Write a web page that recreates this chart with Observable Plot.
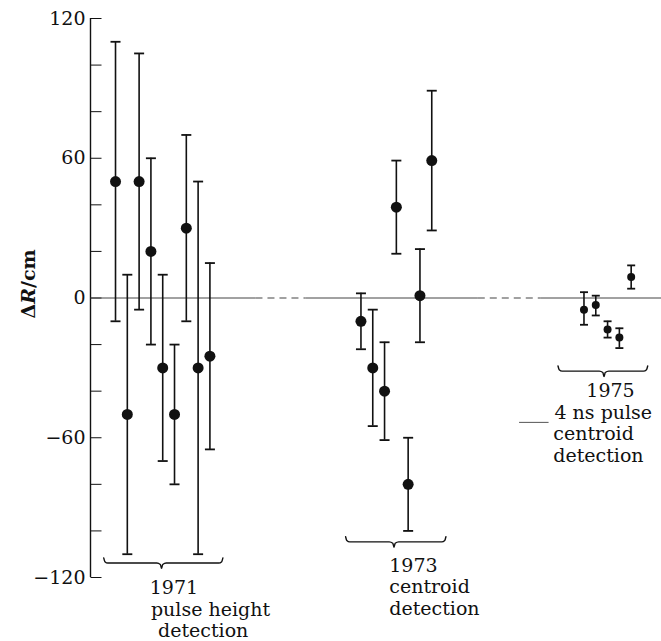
<!DOCTYPE html>
<html><head><meta charset="utf-8">
<script src="https://cdn.jsdelivr.net/npm/d3@7"></script>
<script src="https://cdn.jsdelivr.net/npm/@observablehq/plot@0.6"></script>
<style>
body{margin:0;background:#fff;}
#chart svg{display:block;}
</style></head><body><div id="chart"></div>
<script>
// ---- data ----
// horizontal sequence slots of each measurement
const slots1971 = [0, 1, 2, 3, 4, 5, 6, 7, 8];
const dR1971    = [50, -50, 50, 20, -30, -50, 30, -30, -25];
const lo1971    = [-10, -110, -5, -20, -70, -80, -10, -110, -65];
const hi1971    = [110, 10, 105, 60, 10, -20, 70, 50, 15];

const slots1973 = [20.8, 21.8, 22.8, 23.8, 24.8, 25.8, 26.8];
const dR1973    = [-10, -30, -40, 39, -80, 1, 59];
const lo1973    = [-22, -55, -61, 19, -100, -19, 29];
const hi1973    = [2, -5, -19, 59, -60, 21, 89];

const slots1975 = [39.7, 40.7, 41.7, 42.7, 43.7];
const dR1975    = [-5, -3, -13.5, -17, 9];
const lo1975    = [-11.5, -7.5, -17, -21.5, 4];
const hi1975    = [2.5, 1, -10, -13, 14];

const yTicks  = [-120, -100, -80, -60, -40, -20, 0, 20, 40, 60, 80, 100, 120];
const yLabels = [-120, -60, 0, 60, 120];
const yTitle  = "ΔR/cm";

// group annotations: brace span (slots), brace level (ΔR), label lines
const groupNames  = ["1971", "1973", "1975"];
const braceFrom   = [-1.0, 19.5, 37.5];
const braceTo     = [9.1, 28.0, 45.1];
const braceMid    = [3.9, 23.6, 41.4];
const braceLevel  = [-113.8, -104.7, -31.4];
const labelLines  = [
  ["1971", "pulse height", "detection"],
  ["1973", "centroid", "detection"],
  ["1975", "4 ns pulse", "centroid", "detection"]
];
const labelLeft   = [            // left edge of each line (slots)
  [2.9, 3.0, 3.6],
  [23.2, 23.2, 23.2],
  [39.9, 37.2, 37.1, 37.1]
];
// zero reference line pieces (slots) and style
const zeroFrom  = [-2.12, 11.86, 16.1, 30.7, 36.0];
const zeroTo    = [11.86, 16.1, 30.7, 36.0, 46.3];
const zeroDash  = [false, true, false, true, false];

// ---- layout ----
const W = 661, H = 641;
const mL = 90, mR = 0, mT = 18, mB = 64;
const xDom = [-2.12, 46.27];
const pxPerUnit = (H - mT - mB) / 240;
const FONT = "DejaVu Serif";

function makePoints(slots, v, lo, hi, g) {
  return slots.map((s, i) => ({x: s, y: v[i], lo: lo[i], hi: hi[i], g}));
}
const big = [...makePoints(slots1971, dR1971, lo1971, hi1971, "1971"),
             ...makePoints(slots1973, dR1973, lo1973, hi1973, "1973")];
const small = makePoints(slots1975, dR1975, lo1975, hi1975, "1975");

const zeroSegs = zeroFrom.map((a, i) => ({x1: a, x2: zeroTo[i], dashed: zeroDash[i]}));

// braces
const braces = [];
groupNames.forEach((g, i) => {
  const a = braceFrom[i], b = braceTo[i], m = braceMid[i], y = braceLevel[i];
  const pts = [[a, y + 2.2], [a + 0.1, y + 0.6], [a + 0.35, y],
               [m - 0.4, y], [m - 0.1, y - 0.6], [m, y - 2.3], [m + 0.1, y - 0.6], [m + 0.4, y],
               [b - 0.35, y], [b - 0.1, y + 0.6], [b, y + 2.2]];
  pts.forEach(([x, yy]) => braces.push({g, x, y: yy}));
});

// label lines (baselines below brace)
const firstGap = [31, 30, 26];
const lineGap = 21.5;
const labels = [];
groupNames.forEach((g, i) => {
  labelLines[i].forEach((t, j) => {
    labels.push({x: labelLeft[i][j], y: braceLevel[i] - (firstGap[i] + j * lineGap) / pxPerUnit, text: t});
  });
});

const tickSym = {draw(ctx) { ctx.moveTo(0, 0); ctx.lineTo(11, 0); }};
const capSym = {draw(ctx, size) { const w = Math.sqrt(size / Math.PI); ctx.moveTo(-w, 0); ctx.lineTo(w, 0); }};

const ink = "#111";

const chart = Plot.plot({
  width: W, height: H,
  marginLeft: mL, marginRight: mR, marginTop: mT, marginBottom: mB,
  style: {fontFamily: FONT, background: "#fff", color: ink, overflow: "visible"},
  x: {domain: xDom, axis: null},
  y: {domain: [-120, 120], axis: null},
  marks: [
    // left axis line
    Plot.ruleX([xDom[0]], {y1: -120, y2: 120, stroke: ink, strokeWidth: 1.4}),
    // ticks pointing inward
    Plot.dot(yTicks, {x: () => xDom[0], y: d => d, symbol: tickSym, r: 3, fill: "none", stroke: ink, strokeWidth: 1}),
    Plot.axisY({ticks: yLabels, tickSize: 0, tickPadding: 5, fontSize: 19, fontFamily: FONT, label: null, fill: ink}),
    // zero line
    Plot.link(zeroSegs.filter(d => !d.dashed), {x1: "x1", x2: "x2", y1: 0, y2: 0, stroke: "#444", strokeWidth: 1}),
    Plot.link(zeroSegs.filter(d => d.dashed), {x1: "x1", x2: "x2", y1: 0, y2: 0, stroke: "#444", strokeWidth: 1.2, strokeDasharray: "7,5"}),
    // error bars
    Plot.ruleX(big, {x: "x", y1: "lo", y2: "hi", stroke: ink, strokeWidth: 1.6}),
    Plot.ruleX(small, {x: "x", y1: "lo", y2: "hi", stroke: ink, strokeWidth: 1.6}),
    Plot.dot(big, {x: "x", y: "hi", symbol: capSym, r: 5, fill: "none", stroke: ink, strokeWidth: 1.8}),
    Plot.dot(big, {x: "x", y: "lo", symbol: capSym, r: 5, fill: "none", stroke: ink, strokeWidth: 1.8}),
    Plot.dot(small, {x: "x", y: "hi", symbol: capSym, r: 4, fill: "none", stroke: ink, strokeWidth: 1.8}),
    Plot.dot(small, {x: "x", y: "lo", symbol: capSym, r: 4, fill: "none", stroke: ink, strokeWidth: 1.8}),
    // points
    Plot.dot(big, {x: "x", y: "y", r: 5.5, fill: ink, stroke: "none"}),
    Plot.dot(small, {x: "x", y: "y", r: 4, fill: ink, stroke: "none"}),
    // braces
    Plot.line(braces, {x: "x", y: "y", z: "g", stroke: ink, strokeWidth: 1.4, curve: "monotone-x"}),
    // 1975 leader stroke
    Plot.link([{x1: 34.2, x2: 36.7, y: -53.4}], {x1: "x1", x2: "x2", y1: "y", y2: "y", stroke: "#555", strokeWidth: 1}),
    // group labels
    Plot.text(labels, {x: "x", y: "y", text: "text", textAnchor: "start", lineAnchor: "bottom", fontSize: 19, fontFamily: FONT, fill: ink}),
    // y title
    Plot.text([yTitle], {x: () => xDom[0], y: () => 6, text: d => d, rotate: -90, dx: -62, fontSize: 19, fontWeight: "bold", fontFamily: FONT, fill: ink, textAnchor: "middle", lineAnchor: "middle"})
  ]
});
document.getElementById("chart").appendChild(chart);

// italicise the R of ΔR
d3.select(chart).selectAll("text").each(function() {
  if (this.textContent === yTitle) {
    const t = d3.select(this);
    t.text(null);
    t.append("tspan").text("Δ");
    t.append("tspan").attr("font-style", "italic").text("R");
    t.append("tspan").text("/cm");
  }
});
</script>
</body></html>
